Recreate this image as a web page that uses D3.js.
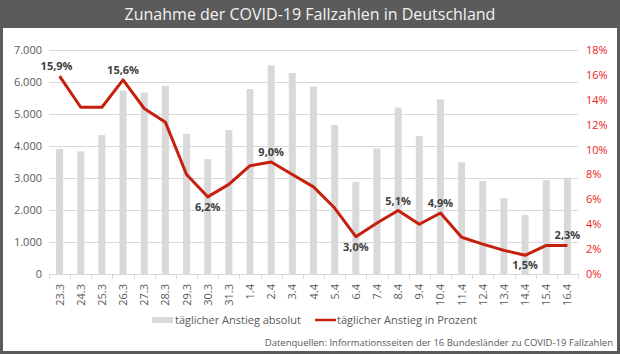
<!DOCTYPE html>
<html>
<head>
<meta charset="utf-8">
<script src="https://cdn.jsdelivr.net/npm/d3@7"></script>
<style>
  body { margin: 0; background: #fff; }
  svg { display: block; font-family: "Open Sans", sans-serif; }
</style>
</head>
<body>
<div id="chart"></div>
<script>
var width = 620, height = 354;

var dates = ["23.3", "24.3", "25.3", "26.3", "27.3", "28.3", "29.3", "30.3", "31.3",
  "1.4", "2.4", "3.4", "4.4", "5.4", "6.4", "7.4", "8.4", "9.4", "10.4",
  "11.4", "12.4", "13.4", "14.4", "15.4", "16.4"];
var absolut = [3910, 3830, 4340, 5730, 5670, 5880, 4380, 3590, 4500,
  5780, 6520, 6280, 5860, 4660, 2880, 3920, 5200, 4310, 5460,
  3490, 2910, 2370, 1840, 2930, 3010];
var prozent = [15.9, 13.4, 13.4, 15.6, 13.3, 12.2, 8.0, 6.2, 7.2,
  8.7, 9.0, 8.0, 7.0, 5.3, 3.0, 4.1, 5.1, 4.0, 4.9,
  2.95, 2.4, 1.9, 1.5, 2.3, 2.3];
// which points get a label, and whether above or below
var labelled = { "23.3": -1, "26.3": -1, "30.3": 1, "2.4": -1, "6.4": 1,
  "8.4": -1, "10.4": -1, "14.4": 1, "16.4": -1 };
var leftTicks = [0, 1000, 2000, 3000, 4000, 5000, 6000, 7000];
var rightTicks = [0, 2, 4, 6, 8, 10, 12, 14, 16, 18];

var plot = { left: 49, right: 578, top: 50, bottom: 274 };

var svg = d3.select("#chart").append("svg")
  .attr("width", width).attr("height", height);

// frame + title bar
svg.append("rect").attr("width", width).attr("height", height).attr("fill", "#5b5b5b");
svg.append("rect").attr("x", 3).attr("y", 28).attr("width", width - 6).attr("height", height - 31)
  .attr("fill", "#fff");
svg.append("text").attr("x", width / 2).attr("y", 20)
  .attr("text-anchor", "middle").attr("fill", "#f2f2f2")
  .style("font-size", "16px")
  .text("Zunahme der COVID-19 Fallzahlen in Deutschland");

var x = d3.scaleBand().domain(dates).range([plot.left, plot.right]);
var y = d3.scaleLinear().domain([0, 7000]).range([plot.bottom, plot.top]);
var y2 = d3.scaleLinear().domain([0, 18]).range([plot.bottom, plot.top]);

// gridlines
svg.append("g").selectAll("line").data(leftTicks.slice(1)).enter().append("line")
  .attr("x1", plot.left).attr("x2", plot.right)
  .attr("y1", function (d) { return y(d) + 0.5; })
  .attr("y2", function (d) { return y(d) + 0.5; })
  .attr("stroke", "#d9d9d9").attr("stroke-width", 1);

// left axis
var leftAxis = svg.append("g")
  .attr("transform", "translate(" + (plot.left - 7) + ",0)")
  .call(d3.axisLeft(y).tickValues(leftTicks).tickSize(0).tickPadding(0)
    .tickFormat(function (d) { return d3.format(",")(d).replace(/,/g, "."); }));
leftAxis.select(".domain").remove();
leftAxis.selectAll("text").attr("fill", "#595959").style("font-size", "11px")
  .style("font-family", "Open Sans");

// right axis
var rightAxis = svg.append("g")
  .attr("transform", "translate(" + (plot.right + 8) + ",0)")
  .call(d3.axisRight(y2).tickValues(rightTicks).tickSize(0).tickPadding(0)
    .tickFormat(function (d) { return d + "%"; }));
rightAxis.select(".domain").remove();
rightAxis.selectAll("text").attr("fill", "#ee1c1c").style("font-size", "11px")
  .style("font-family", "Open Sans");

// bars
var barW = 7;
svg.append("g").selectAll("rect").data(dates).enter().append("rect")
  .attr("x", function (d) { return x(d) + x.bandwidth() / 2 - barW / 2; })
  .attr("y", function (d, i) { return y(absolut[i]); })
  .attr("width", barW)
  .attr("height", function (d, i) { return plot.bottom - y(absolut[i]); })
  .attr("fill", "#d9d9d9");

// x axis
var xAxis = svg.append("g")
  .attr("transform", "translate(0," + plot.bottom + ")");
xAxis.append("line").attr("x1", plot.left).attr("x2", plot.right)
  .attr("y1", 0.5).attr("y2", 0.5).attr("stroke", "#d9d9d9");
xAxis.selectAll(".tk").data(dates.concat(["end"])).enter().append("line")
  .attr("x1", function (d, i) { return Math.round(plot.left + i * x.step()) + 0.5; })
  .attr("x2", function (d, i) { return Math.round(plot.left + i * x.step()) + 0.5; })
  .attr("y1", 0).attr("y2", 5).attr("stroke", "#d9d9d9");
xAxis.selectAll("text").data(dates).enter().append("text")
  .attr("transform", function (d) {
    return "translate(" + (x(d) + x.bandwidth() / 2 + 4) + ",10) rotate(-90)";
  })
  .attr("text-anchor", "end")
  .attr("fill", "#595959").style("font-size", "11px")
  .text(function (d) { return d; });

// line
var line = d3.line()
  .x(function (d, i) { return x(dates[i]) + x.bandwidth() / 2; })
  .y(function (d) { return y2(d); });
svg.append("path").datum(prozent)
  .attr("d", line).attr("fill", "none")
  .attr("stroke", "#c5200d").attr("stroke-width", 3)
  .attr("stroke-linejoin", "round");

// data labels
svg.append("g").selectAll("text").data(dates.filter(function (d) { return d in labelled; }))
  .enter().append("text")
  .attr("x", function (d) { return x(d) + x.bandwidth() / 2 - (d === "23.3" ? 3 : 0); })
  .attr("y", function (d) {
    var v = prozent[dates.indexOf(d)];
    return y2(v) + (labelled[d] < 0 ? -6 : 14);
  })
  .attr("text-anchor", "middle")
  .attr("fill", "#404040").style("font-size", "11px").style("font-weight", "bold")
  .text(function (d) { return d3.format(".1f")(prozent[dates.indexOf(d)]).replace(".", ",") + "%"; });

// legend
var lg = svg.append("g").attr("transform", "translate(0,320)");
lg.append("rect").attr("x", 152).attr("y", -3).attr("width", 21).attr("height", 6).attr("fill", "#d9d9d9");
lg.append("text").attr("x", 175).attr("y", 4).attr("fill", "#595959").style("font-size", "11px")
  .text("täglicher Anstieg absolut");
lg.append("line").attr("x1", 315).attr("x2", 336).attr("y1", 0).attr("y2", 0)
  .attr("stroke", "#c5200d").attr("stroke-width", 2.5);
lg.append("text").attr("x", 337).attr("y", 4).attr("fill", "#595959").style("font-size", "11px")
  .text("täglicher Anstieg in Prozent");

// source
svg.append("text").attr("x", 613).attr("y", 346).attr("text-anchor", "end")
  .attr("fill", "#595959").style("font-size", "9.5px")
  .text("Datenquellen: Informationsseiten der 16 Bundesländer zu COVID-19 Fallzahlen");
</script>
</body>
</html>
